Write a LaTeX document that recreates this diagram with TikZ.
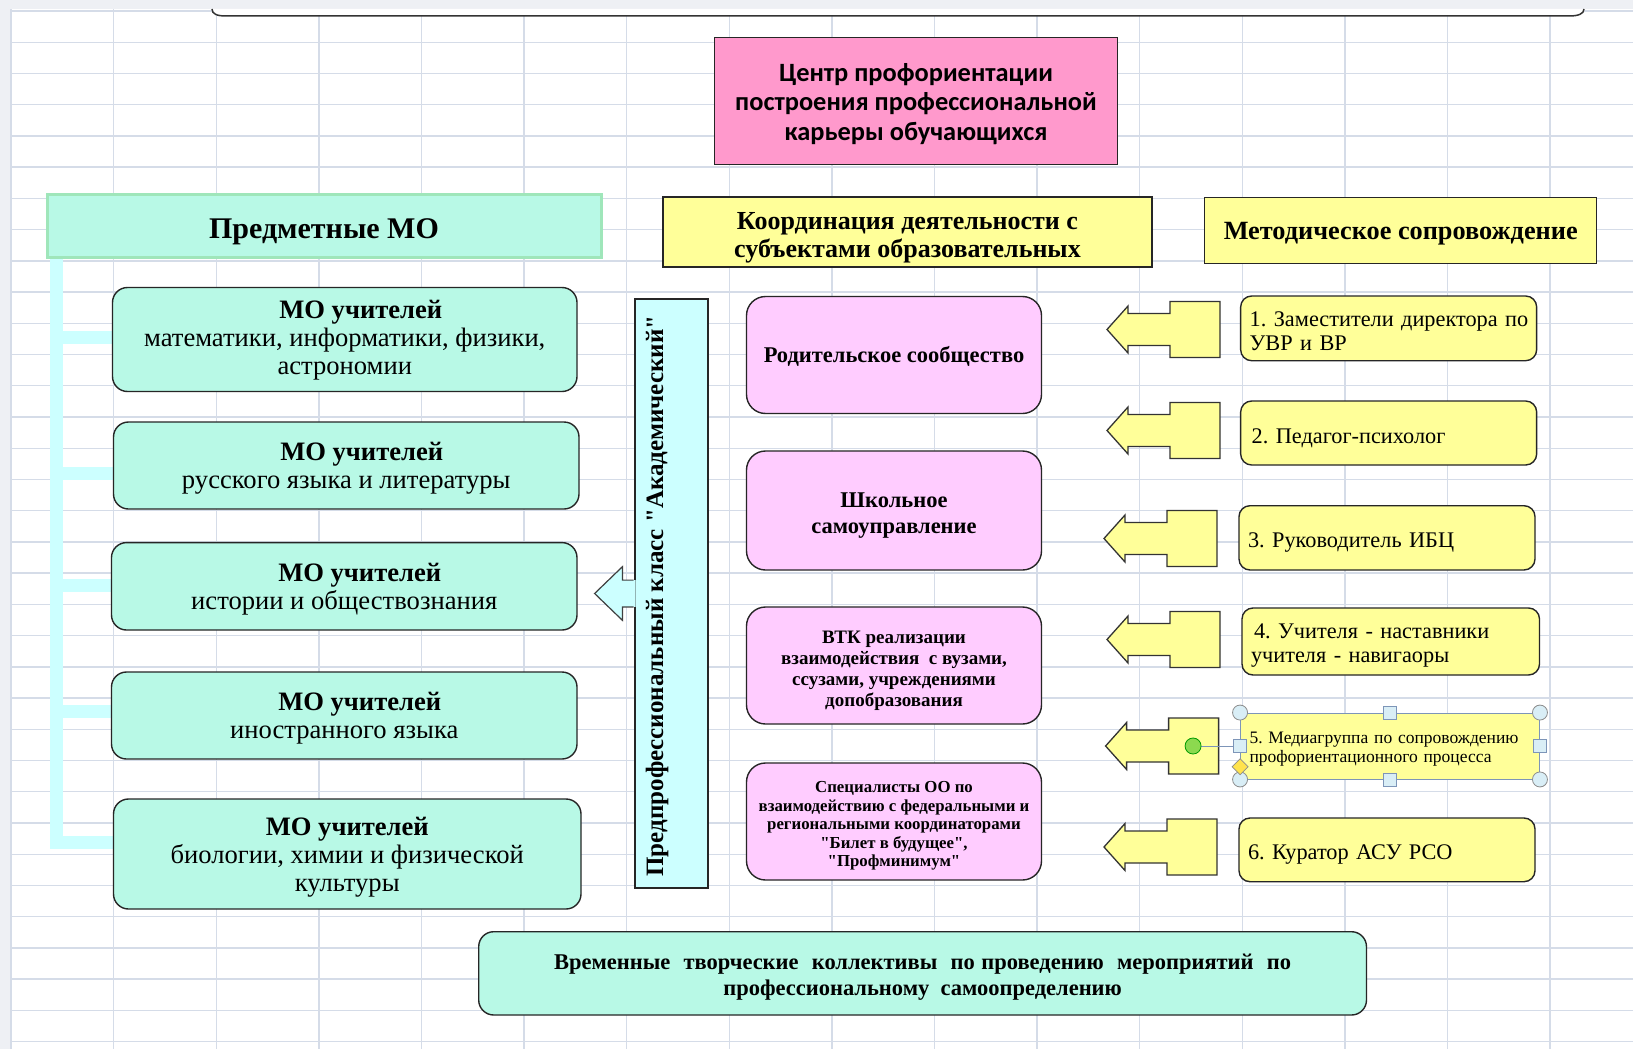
\documentclass[tikz,border=0pt]{standalone}
\usepackage{fontspec}
\setmainfont{Liberation Serif}[Ligatures=TeXOff]
\newfontfamily\calib{Carlito}
\usetikzlibrary{calc}
\pgfdeclarelayer{gridl}
\pgfdeclarelayer{bgl}
\pgfsetlayers{gridl,bgl,main}
\definecolor{mint}{HTML}{B8F9E6}
\definecolor{mintb}{HTML}{9FE6BA}
\definecolor{pinkA}{HTML}{FF99CC}
\definecolor{pinkB}{HTML}{FFCCFF}
\definecolor{yel}{HTML}{FFFF99}
\definecolor{cyanL}{HTML}{CCFFFF}
\definecolor{gridc}{HTML}{D5DCE8}
\definecolor{bandc}{HTML}{EEF0F4}
\definecolor{selc}{HTML}{7D95B8}
\definecolor{handc}{HTML}{D9EEF6}
\definecolor{rotg}{HTML}{8CD94F}
\definecolor{diay}{HTML}{FFE34D}
\newcommand\fs[2]{\fontsize{#1pt}{#2pt}\selectfont}
% centred / left text block lowered by #1 pt without changing its box
\newcommand\ctx[2]{\raisebox{-#1pt}[\height][\depth]{\begin{tabular}{@{}c@{}}#2\end{tabular}}}
\newcommand\ltx[2]{\raisebox{-#1pt}[\height][\depth]{\begin{tabular}{@{}l@{}}#2\end{tabular}}}
\newcommand\mycallout[2]{%
  \filldraw[callst] (#1,#2) -- ++(21,-23.5) -- ++(0,7.5) -- ++(42,0) -- ++(0,-12)
    -- ++(50,0) -- ++(0,56) -- ++(-50,0) -- ++(0,-12) -- ++(-42,0) -- ++(0,7.5) -- cycle;}
\begin{document}
\frenchspacing
\begin{tikzpicture}[x=1pt,y=-1pt,
  box/.style={draw=black!85, line width=1.4pt, inner sep=0pt, align=center},
  wh/.style 2 args={minimum width=#1, minimum height=#2},
  lbox/.style={box, fill=mint, rounded corners=15pt, font=\fs{26.6}{28}},
  pbox/.style={box, fill=pinkB, rounded corners=19pt},
  ybox/.style={box, fill=yel, rounded corners=11pt, align=left, inner xsep=9pt, font=\fs{22.3}{24}},
  tree/.style={cyanL, line width=13pt},
  callst/.style={fill=yel, draw=black!80, line width=1.3pt, line join=miter},
  gridline/.style={gridc, line width=1.4pt},
  handle/.style={fill=handc, draw=black!45, line width=0.8pt},
]
\useasboundingbox (0,0) rectangle (1633,1049);

% ---------- spreadsheet background ----------
\begin{pgfonlayer}{gridl}
\fill[white] (0,0) rectangle (1633,1049);
\foreach \k in {0,...,15} \draw[gridline] ({11+102.6*\k},0) -- ({11+102.6*\k},1049);
\foreach \k in {0,...,33} \draw[gridline] (0,{11+31.23*\k}) -- (1633,{11+31.23*\k});
\fill[bandc] (0,0) rectangle (10,1049);
\fill[bandc] (0,0) rectangle (1633,9);
\filldraw[fill=white, draw=black!80, line width=1.5pt] (212,9) .. controls (212,14) and (217,16) .. (226,16)
  -- (1569,16) .. controls (1578,16) and (1584,14) .. (1584,9);
\end{pgfonlayer}

% ---------- top ----------
\node[box, fill=pinkA, wh={403}{127}, font=\calib\bfseries\fs{26.4}{29.5}] (T) at (916,101)
  {\ctx{4}{Центр профориентации\\построения профессиональной\\карьеры обучающихся}};

\node[box, draw=mintb, line width=3pt, fill=mint, wh={554}{63}, font=\bfseries\fs{30}{30}] (PMO) at (324,225.5)
  {\ctx{6.5}{Предметные МО}};
\node[box, fill=yel, wh={489}{70}, font=\bfseries\fs{26}{28}] (K) at (907.5,232)
  {\ctx{6}{Координация деятельности с\\субъектами образовательных}};
\node[box, fill=yel, wh={392}{66}, font=\bfseries\fs{26.3}{28}] (M) at (1400.7,230.3)
  {\ctx{3.5}{Методическое сопровождение}};

% ---------- left column ----------
\node[lbox, wh={464.5}{104}] (La) at (344.75,339.5)
  {\ctx{1}{\hspace*{32pt}\textbf{МО учителей}\\математики, информатики, физики,\\астрономии}};
\node[lbox, wh={465.5}{87}] (Lb) at (346.25,465.5)
  {\ctx{3.5}{\hspace*{31pt}\textbf{МО учителей}\\русского языка и литературы}};
\node[lbox, wh={465.5}{87.4}] (Lc) at (344.25,586.3)
  {\ctx{3.5}{\hspace*{31pt}\textbf{МО учителей}\\истории и обществознания}};
\node[lbox, wh={465.5}{87}] (Ld) at (344.25,715.5)
  {\ctx{3.5}{\hspace*{31pt}\textbf{МО учителей}\\иностранного языка}};
\node[lbox, wh={467.5}{110}] (Le) at (347.25,854)
  {\ctx{3.5}{\textbf{МО учителей}\\биологии, химии и физической\\культуры}};

\begin{pgfonlayer}{bgl}
\coordinate (trunk) at ([xshift=10.5pt]PMO.south west);
\coordinate (bA) at ([yshift=2.5pt]La.west);
\coordinate (bB) at ([yshift=-7.5pt]Lb.west);
\coordinate (bC) at ([yshift=1.3pt]Lc.west);
\coordinate (bD) at ([yshift=4.5pt]Ld.west);
\coordinate (bE) at ([yshift=12pt]Le.west);
\draw[tree] (trunk) |- (bE);
\foreach \b in {bA,bB,bC,bD} \draw[tree] (trunk |- \b) -- (\b);
\end{pgfonlayer}

% ---------- vertical class box ----------
\node[box, fill=cyanL, wh={73}{589}] (V) at (671.5,593.5) {};
\node[rotate=90, inner sep=0pt, font=\bfseries\fs{25}{28}] (Vt) at (657,596)
  {Предпрофессиональный класс "Академический"};
\coordinate (va) at (V.west);
\fill[cyanL] ($(va)+(1.2,-13.4)$) -- ++(-13.1,0) -- ++(0,-13.4) -- ++(-27.8,26.8) -- ++(27.8,26.8)
  -- ++(0,-13.4) -- ++(13.1,0) -- cycle;
\draw[black!75, line width=1.2pt, line join=miter] ($(va)+(-0.6,-13.4)$) -- ++(-11.3,0) -- ++(0,-13.4) -- ++(-27.8,26.8)
  -- ++(27.8,26.8) -- ++(0,-13.4) -- ++(11.3,0);

% ---------- pink column ----------
\node[pbox, wh={295}{117}, font=\bfseries\fs{22.5}{26}] (Pa) at (894,355) {\ctx{2.5}{Родительское сообщество}};
\node[pbox, wh={295}{119}, font=\bfseries\fs{22.5}{26}] (Pb) at (894,510.5) {\ctx{4.5}{Школьное\\самоуправление}};
\node[pbox, wh={295}{117}, font=\bfseries\fs{19}{21}] (Pc) at (894,665.5)
  {\ctx{5.5}{ВТК реализации\\взаимодействия \ с вузами,\\ссузами, учреждениями\\допобразования}};
\node[pbox, wh={295}{117}, font=\bfseries\fs{16.8}{18.5}] (Pd) at (894,821.5)
  {\ctx{4.5}{Специалисты ОО по\\взаимодействию с федеральными и\\региональными координаторами\\"Билет в будущее",\\"Профминимум"}};

% ---------- right column ----------
\mycallout{1107}{329.5}
\mycallout{1107}{430.5}
\mycallout{1104}{538.5}
\mycallout{1107}{639.5}
\mycallout{1105.6}{746}
\mycallout{1104}{847}

\node[ybox, text width=278pt, minimum height=64.7] (Y1) at (1388.65,328.35)
  {\ltx{5}{\makebox[274pt][s]{1. Заместители директора по}\\УВР и ВР}};
\node[ybox, text width=278pt, minimum height=64] (Y2) at (1388.65,433) {\ltx{5.5}{\hspace*{2pt}2. Педагог-психолог}};
\node[ybox, text width=278pt, minimum height=64.3] (Y3) at (1387,537.85) {\ltx{4.5}{3. Руководитель ИБЦ}};
\node[ybox, text width=279.5pt, minimum height=67] (Y4) at (1390.75,641.5)
  {\ltx{4}{\hspace*{3pt}4. Учителя - наставники\\учителя - навигаоры}};
\node[ybox, rounded corners=0pt, draw=selc, line width=0.9pt, text width=281pt, minimum height=66,
  font=\fs{17.5}{18.7}] (Y5) at (1390,746)
  {\ltx{3}{5. Медиагруппа по сопровождению\\профориентационного процесса}};
\node[ybox, text width=278pt, minimum height=63.7] (Y6) at (1387,849.85) {\ltx{4.5}{6. Куратор АСУ РСО}};

% selection handles of Y5
\coordinate (rot) at ([xshift=-47pt]Y5.west);
\draw[selc, line width=1pt] (rot) -- (Y5.west);
\filldraw[fill=rotg, draw=black!40!green, line width=0.8pt] (rot) circle (8pt);
\foreach \a in {north west, north east, south west, south east}
  \filldraw[handle] (Y5.\a) circle (7.5pt);
\foreach \a in {north, south, west, east}
  \filldraw[fill=handc, draw=selc, line width=0.8pt] ($(Y5.\a)+(-6.5,-6.5)$) rectangle ++(13,13);
\coordinate (dia) at ([yshift=-20.7pt]Y5.west);
\filldraw[fill=diay, draw=black!45, line width=0.7pt] ($(dia)+(-8,0)$) -- ++(8,-8) -- ++(8,8) -- ++(-8,8) -- cycle;

% ---------- bottom ----------
\node[box, fill=mint, rounded corners=15pt, wh={887.8}{83.3}, font=\bfseries\fs{22.5}{26}] (B) at (922.6,973.35)
  {\ctx{4}{\makebox[737pt][s]{Временные \ творческие \ коллективы \ по проведению \ мероприятий \ по}\\профессиональному \ самоопределению}};
\end{tikzpicture}
\end{document}
